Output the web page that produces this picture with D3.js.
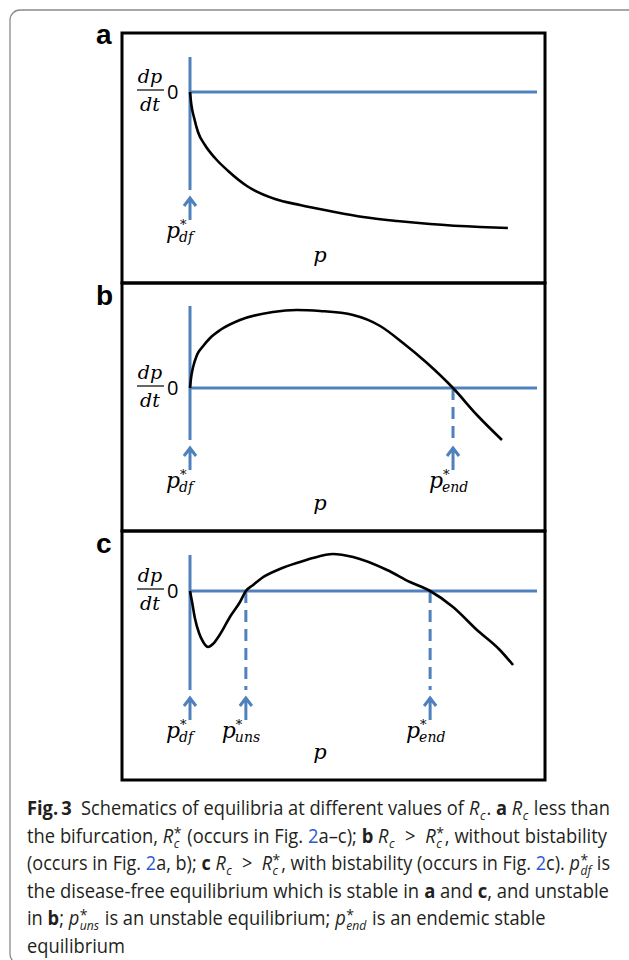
<!DOCTYPE html>
<html>
<head>
<meta charset="utf-8">
<script src="https://cdn.jsdelivr.net/npm/d3@7"></script>
<style>
  body { margin: 0; background: #fff; }
  text { white-space: pre; }
</style>
</head>
<body>
<div id="fig"></div>
<script>
// schematic curves, p (0..1 along the axis) and dp/dt (arbitrary units)
var pA  = [0, 0.004, 0.012, 0.023, 0.043, 0.072, 0.110, 0.164, 0.245, 0.317, 0.403, 0.499, 0.597, 0.692, 0.836, 0.916];
var dpA = [0, -0.13, -0.26, -0.40, -0.53, -0.66, -0.79, -0.94, -1.07, -1.13, -1.19, -1.25, -1.29, -1.32, -1.35, -1.36];

var pB  = [0, 0.003, 0.009, 0.020, 0.038, 0.058, 0.087, 0.144, 0.239, 0.308, 0.375, 0.470, 0.548, 0.614, 0.683, 0.758, 0.827, 0.899];
var dpB = [0, 0.10, 0.21, 0.33, 0.42, 0.50, 0.58, 0.68, 0.76, 0.78, 0.77, 0.73, 0.62, 0.45, 0.25, 0, -0.27, -0.52];

var pC  = [0, 0.006, 0.014, 0.026, 0.038, 0.052, 0.066, 0.087, 0.115, 0.144, 0.161, 0.182, 0.207, 0.259, 0.317, 0.354, 0.412, 0.470, 0.568, 0.634, 0.692, 0.758, 0.827, 0.893, 0.931];
var dpC = [0, -0.11, -0.27, -0.42, -0.51, -0.56, -0.53, -0.43, -0.26, -0.11, 0, 0.06, 0.13, 0.22, 0.29, 0.33, 0.37, 0.34, 0.21, 0.09, 0, -0.16, -0.39, -0.59, -0.74];

// equilibria per panel
var eqA = [{p: 0, sub: "df"}];
var eqB = [{p: 0, sub: "df"}, {p: 0.758, sub: "end"}];
var eqC = [{p: 0, sub: "df"}, {p: 0.161, sub: "uns"}, {p: 0.692, sub: "end"}];

var panelLetters = ["a", "b", "c"];

var W = 629, H = 960;
var blue = "#4f81bd";
var serif = "'DejaVu Serif', 'Liberation Serif', serif";
var sans = "'Open Sans', 'Noto Sans', sans-serif";

var svg = d3.select("#fig").append("svg")
    .attr("width", W)
    .attr("height", H);

// outer card frame
svg.append("path")
    .attr("d", "M640,10 H20 A10,10 0 0 0 10,20 V954 A10,10 0 0 0 20,964 H640")
    .attr("fill", "none")
    .attr("stroke", "#8a8a8a")
    .attr("stroke-width", 1.3);

var x = d3.scaleLinear().domain([0, 1]).range([190, 537]);

// layout of the three panels
var panels = [
    {top: 33,  bottom: 283, zero: 92,  vTop: 57,  vBot: 190, arrowBot: 220, p: pA, dp: dpA, eq: eqA},
    {top: 283, bottom: 531, zero: 388, vTop: 306, vBot: 440, arrowBot: 470, p: pB, dp: dpB, eq: eqB},
    {top: 531, bottom: 780, zero: 591, vTop: 555, vBot: 690, arrowBot: 720, p: pC, dp: dpC, eq: eqC}
];

panels.forEach(function (pn, i) {
    var g = svg.append("g");
    var y = d3.scaleLinear().domain([-1, 1]).range([pn.zero + 100, pn.zero - 100]);

    // frame
    g.append("rect")
        .attr("x", 122).attr("y", pn.top)
        .attr("width", 423).attr("height", pn.bottom - pn.top)
        .attr("fill", "none")
        .attr("stroke", "#000")
        .attr("stroke-width", 3);

    g.append("text")
        .attr("x", 96).attr("y", [44, 305, 553][i])
        .attr("font-family", "'Liberation Sans', Arial, sans-serif")
        .attr("font-weight", "bold")
        .attr("font-size", 28)
        .text(panelLetters[i]);

    // axes
    g.append("line")
        .attr("x1", x(0)).attr("x2", x(0))
        .attr("y1", pn.vTop).attr("y2", pn.vBot)
        .attr("stroke", blue).attr("stroke-width", 3);
    g.append("line")
        .attr("x1", x(0)).attr("x2", x(1))
        .attr("y1", y(0)).attr("y2", y(0))
        .attr("stroke", blue).attr("stroke-width", 3);

    // dp/dt label
    g.append("text")
        .attr("x", 150).attr("y", pn.zero - 9)
        .attr("text-anchor", "middle")
        .attr("font-family", serif).attr("font-style", "italic")
        .attr("font-size", 19)
        .text("dp");
    g.append("line")
        .attr("x1", 137).attr("x2", 164)
        .attr("y1", pn.zero - 2).attr("y2", pn.zero - 2)
        .attr("stroke", "#000").attr("stroke-width", 1.2);
    g.append("text")
        .attr("x", 150).attr("y", pn.zero + 19)
        .attr("text-anchor", "middle")
        .attr("font-family", serif).attr("font-style", "italic")
        .attr("font-size", 19)
        .text("dt");
    g.append("text")
        .attr("x", 167).attr("y", pn.zero + 7)
        .attr("font-family", sans)
        .attr("font-size", 20)
        .text("0");

    // p axis label
    g.append("text")
        .attr("x", 320).attr("y", pn.bottom - 21)
        .attr("text-anchor", "middle")
        .attr("font-family", serif).attr("font-style", "italic")
        .attr("font-size", 21)
        .text("p");

    // equilibria: dashed drop lines, arrows, labels
    pn.eq.forEach(function (e) {
        var ex = x(e.p);
        if (e.p > 0) {
            g.append("line")
                .attr("x1", ex).attr("x2", ex)
                .attr("y1", y(0)).attr("y2", pn.vBot)
                .attr("stroke", blue).attr("stroke-width", 3)
                .attr("stroke-dasharray", "12,7");
        }
        var tip = pn.vBot + 8;
        g.append("path")
            .attr("d", "M" + ex + "," + pn.arrowBot + " V" + tip +
                       " M" + (ex - 6) + "," + (tip + 8) + " L" + ex + "," + tip + " L" + (ex + 6) + "," + (tip + 8))
            .attr("fill", "none")
            .attr("stroke", blue).attr("stroke-width", 3);

        var bx = ex - 24, by = pn.arrowBot + 18;
        var lab = g.append("text")
            .attr("font-family", serif).attr("font-style", "italic");
        lab.append("tspan").attr("x", bx).attr("y", by)
            .attr("font-size", 22).text("p");
        lab.append("tspan").attr("x", bx + 14).attr("y", by - 9)
            .attr("font-size", 13).attr("font-style", "normal").text("*");
        lab.append("tspan").attr("x", bx + 13).attr("y", by + 4)
            .attr("font-size", 14).text(e.sub);
    });

    // the curve
    var line = d3.line()
        .x(function (d) { return x(d[0]); })
        .y(function (d) { return y(d[1]); })
        .curve(d3.curveMonotoneX);
    g.append("path")
        .attr("d", line(d3.zip(pn.p, pn.dp)))
        .attr("fill", "none")
        .attr("stroke", "#000")
        .attr("stroke-width", 2.6)
        .attr("stroke-linejoin", "round");
});

// caption
var captionLines = [
    [{b: "Fig.\u20093"}, {t: "  Schematics of equilibria at different values of "}, {m: "R", sub: "c"}, {t: ". "}, {b: "a"}, {t: " "}, {m: "R", sub: "c"}, {t: " less than"}],
    [{t: "the bifurcation, "}, {m: "R", sup: "*", sub: "c"}, {t: " (occurs in Fig. "}, {l: "2"}, {t: "a\u2013c); "}, {b: "b"}, {t: " "}, {m: "R", sub: "c"}, {t: "  >  "}, {m: "R", sup: "*", sub: "c"}, {t: ", without bistability"}],
    [{t: "(occurs in Fig. "}, {l: "2"}, {t: "a, b); "}, {b: "c"}, {t: " "}, {m: "R", sub: "c"}, {t: "  >  "}, {m: "R", sup: "*", sub: "c"}, {t: ", with bistability (occurs in Fig. "}, {l: "2"}, {t: "c). "}, {m: "p", sup: "*", sub: "df"}, {t: " is"}],
    [{t: "the disease-free equilibrium which is stable in "}, {b: "a"}, {t: " and "}, {b: "c"}, {t: ", and unstable"}],
    [{t: "in "}, {b: "b"}, {t: "; "}, {m: "p", sup: "*", sub: "uns"}, {t: " is an unstable equilibrium; "}, {m: "p", sup: "*", sub: "end"}, {t: " is an endemic stable"}],
    [{t: "equilibrium"}]
];
var lineEnds = [610, 607, 610, 609, null, null];

var capX = 27, capY0 = 815, capStep = 27.5, fs = 19.5, fsSmall = 13;
var capG = svg.append("g").attr("font-family", sans).attr("fill", "#231f20");
var lineGroups = [];

function addText(g, xx, str, opts) {
    var t = g.append("text")
        .attr("x", xx).attr("y", 0)
        .attr("font-size", fs)
        .attr("xml:space", "preserve")
        .text(str);
    if (opts.bold) t.attr("font-weight", "bold");
    if (opts.color) t.attr("fill", opts.color);
    return t.node().getComputedTextLength();
}

// italic symbol with stacked superscript / subscript, one text element
function addMath(g, xx, s) {
    var t = g.append("text").attr("font-style", "italic").attr("xml:space", "preserve");
    var base = t.append("tspan").attr("x", xx).attr("y", 0).attr("font-size", fs).text(s.m);
    var bw = base.node().getComputedTextLength() + 0.5;
    var w1 = 0;
    if (s.sup) {
        var sp = t.append("tspan").attr("x", xx + bw).attr("y", -5)
            .attr("font-size", fsSmall + 2).attr("font-style", "normal").text(s.sup);
        w1 = sp.node().getComputedTextLength();
    }
    var sb = t.append("tspan").attr("x", xx + bw).attr("y", 5)
        .attr("font-size", fsSmall).text(s.sub);
    var w2 = sb.node().getComputedTextLength();
    return bw + Math.max(w1, w2) + 1;
}

captionLines.forEach(function (segs, i) {
    var lg = capG.append("g");
    var cx = 0;
    segs.forEach(function (s) {
        if (s.t !== undefined) cx += addText(lg, cx, s.t, {});
        else if (s.b !== undefined) cx += addText(lg, cx, s.b, {bold: true});
        else if (s.l !== undefined) cx += addText(lg, cx, s.l, {color: "#2a5bd7"});
        else cx += addMath(lg, cx, s);
    });
    lineGroups.push({g: lg, w: cx});
});

var scales = lineGroups.map(function (d, i) {
    return lineEnds[i] ? (lineEnds[i] - capX) / d.w : null;
});
var meanScale = d3.mean(scales.filter(function (s) { return s; }));
lineGroups.forEach(function (d, i) {
    var s = scales[i] || meanScale;
    d.g.attr("transform", "translate(" + capX + "," + (capY0 + i * capStep) + ") scale(" + s + ",1)");
});
</script>
</body>
</html>
